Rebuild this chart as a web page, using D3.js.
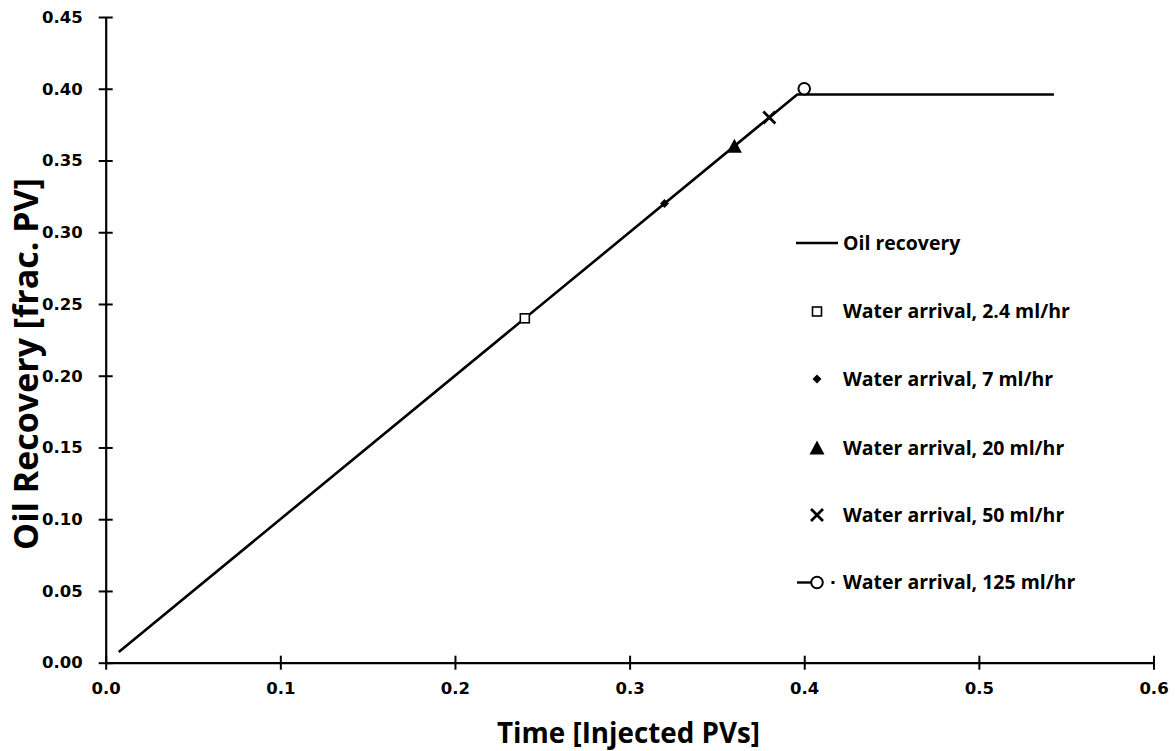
<!DOCTYPE html>
<html>
<head>
<meta charset="utf-8">
<script src="https://cdn.jsdelivr.net/npm/d3@7"></script>
<style>
  body { margin: 0; background: #fff; }
  svg { display: block; }
</style>
</head>
<body>
<svg id="chart" width="1175" height="751"></svg>
<script>
// oil recovery curve (time in injected PVs, recovery in frac. PV)
const recoveryX = [0.0075, 0.396, 0.543];
const recoveryY = [0.0075, 0.396, 0.396];

// water arrival points for each rate
const arrivalLabels = ["Water arrival, 2.4 ml/hr", "Water arrival, 7 ml/hr", "Water arrival, 20 ml/hr",
                       "Water arrival, 50 ml/hr", "Water arrival, 125 ml/hr"];
const arrivalX = [0.24, 0.32, 0.36, 0.38, 0.40];
const arrivalY = [0.24, 0.32, 0.36, 0.38, 0.40];
const arrivalShape = ["square", "diamond", "triangle", "cross", "circle"];

const xTicks = [0, 0.1, 0.2, 0.3, 0.4, 0.5, 0.6];
const yTicks = [0, 0.05, 0.10, 0.15, 0.20, 0.25, 0.30, 0.35, 0.40, 0.45];

const svg = d3.select("#chart");

const x = d3.scaleLinear().domain([0, 0.6]).range([105.7, 1153.5]);
const y = d3.scaleLinear().domain([0, 0.45]).range([662.7, 17]);

const tickFont = "'DejaVu Sans', Verdana, sans-serif";
const labelFont = "'Open Sans', Calibri, sans-serif";

// axes
const xAxis = svg.append("g")
    .attr("transform", `translate(0,${y(0)})`)
    .call(d3.axisBottom(x).tickValues(xTicks).tickFormat(d3.format(".1f")).tickSizeInner(7).tickSizeOuter(0));
xAxis.selectAll(".tick line").attr("y1", -7).attr("y2", 7);

const yAxis = svg.append("g")
    .attr("transform", `translate(${x(0)},0)`)
    .call(d3.axisLeft(y).tickValues(yTicks).tickFormat(d3.format(".2f")).tickSizeInner(7).tickSizeOuter(0));
yAxis.selectAll(".tick line").attr("x1", -7).attr("x2", 7);

[xAxis, yAxis].forEach(a => {
  a.select(".domain").attr("stroke", "#000").attr("stroke-width", 2.2);
  a.selectAll(".tick line").attr("stroke", "#000").attr("stroke-width", 2);
  a.selectAll(".tick text")
    .attr("font-family", tickFont).attr("font-weight", "bold")
    .attr("font-size", 16.5).attr("fill", "#000");
});
xAxis.selectAll(".tick text").attr("y", 20).attr("dy", "0.71em");
yAxis.selectAll(".tick text").attr("x", -23);

// fit bold text to a measured width
function fitText(sel, width) {
  const len = sel.node().getComputedTextLength();
  const fs = +sel.attr("font-size");
  sel.attr("font-size", fs * width / len);
}

const xTitle = svg.append("text")
    .attr("x", 628.5).attr("y", 743)
    .attr("text-anchor", "middle")
    .attr("font-family", labelFont).attr("font-weight", "bold").attr("font-size", 24)
    .text("Time [Injected PVs]");
fitText(xTitle, 263);

const yTitle = svg.append("text")
    .attr("transform", "translate(38,364) rotate(-90)")
    .attr("text-anchor", "middle")
    .attr("font-family", labelFont).attr("font-weight", "bold").attr("font-size", 24)
    .text("Oil Recovery [frac. PV]");
fitText(yTitle, 372);

// recovery line
const line = d3.line().x(d => x(d[0])).y(d => y(d[1]));
svg.append("path")
    .datum(d3.zip(recoveryX, recoveryY))
    .attr("d", line)
    .attr("fill", "none").attr("stroke", "#000").attr("stroke-width", 2.6)
    .attr("stroke-linejoin", "round");

// marker drawing
function drawMarker(g, shape) {
  if (shape === "square") {
    g.append("rect").attr("x", -4.5).attr("y", -4.5).attr("width", 9).attr("height", 9)
      .attr("fill", "#fff").attr("stroke", "#000").attr("stroke-width", 1.6);
  } else if (shape === "diamond") {
    g.append("path").attr("d", "M0,-4.5L4.5,0L0,4.5L-4.5,0Z").attr("fill", "#000");
  } else if (shape === "triangle") {
    g.append("path").attr("d", "M0,-7.5L7.5,6.5L-7.5,6.5Z").attr("fill", "#000");
  } else if (shape === "cross") {
    g.append("path").attr("d", "M-6,-6L6,6M-6,6L6,-6")
      .attr("stroke", "#000").attr("stroke-width", 2.8).attr("fill", "none");
  } else if (shape === "circle") {
    g.append("circle").attr("r", 5.8).attr("fill", "#fff").attr("stroke", "#000").attr("stroke-width", 2);
  }
}

arrivalX.forEach((d, i) => {
  const g = svg.append("g").attr("transform", `translate(${x(d)},${y(arrivalY[i])})`);
  drawMarker(g, arrivalShape[i]);
});

// legend
const legendY = [243, 311.5, 379, 448, 515, 582.5];
const legendTextX = 843;
const legend = svg.append("g");

legend.append("line")
    .attr("x1", 796).attr("x2", 838).attr("y1", legendY[0]).attr("y2", legendY[0])
    .attr("stroke", "#000").attr("stroke-width", 2.4);

const legendLabels = ["Oil recovery"].concat(arrivalLabels);
const texts = legend.selectAll("text.lbl")
  .data(legendLabels)
  .enter().append("text")
    .attr("class", "lbl")
    .attr("x", legendTextX)
    .attr("y", (d, i) => legendY[i])
    .attr("dy", "0.35em")
    .attr("font-family", labelFont).attr("font-weight", "bold").attr("font-size", 16)
    .text(d => d);
// scale legend font using the 2.4 ml/hr entry
const ref = texts.filter((d, i) => i === 1).node().getComputedTextLength();
texts.attr("font-size", 16 * 227 / ref);

arrivalShape.forEach((s, i) => {
  const g = legend.append("g").attr("transform", `translate(817,${legendY[i + 1]})`);
  if (s === "circle") {
    g.append("line").attr("x1", -20).attr("x2", -6).attr("y1", 0).attr("y2", 0)
      .attr("stroke", "#000").attr("stroke-width", 2.4);
    g.append("rect").attr("x", 14.5).attr("y", -1.5).attr("width", 3).attr("height", 3).attr("fill", "#000");
  }
  drawMarker(g, s);
});
</script>
</body>
</html>
